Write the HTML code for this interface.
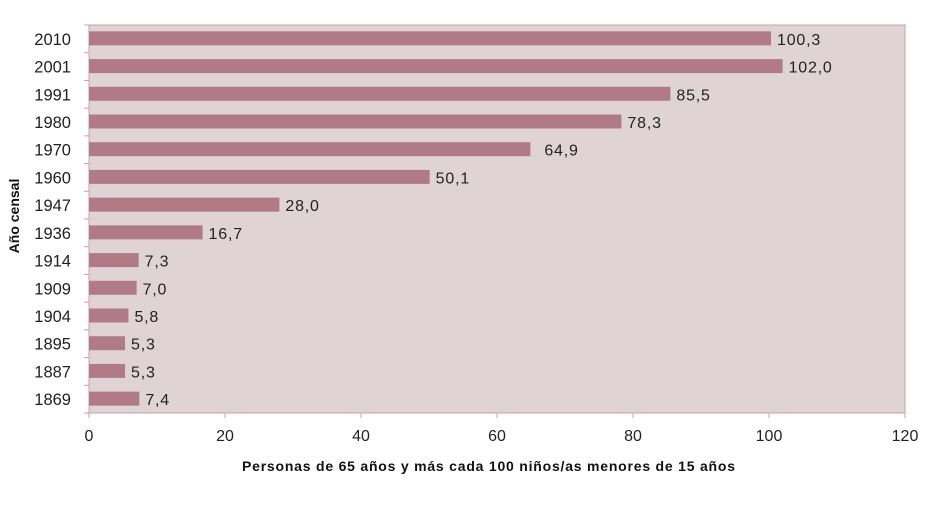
<!DOCTYPE html>
<html><head><meta charset="utf-8"><style>
body{margin:0;background:#fff;}
svg text{font-family:"Liberation Sans",sans-serif;}
</style></head><body>
<svg id="chart" width="930" height="501" xmlns="http://www.w3.org/2000/svg"></svg>
<script>
const categories=["2010","2001","1991","1980","1970","1960","1947","1936","1914","1909","1904","1895","1887","1869"];
const values=[100.3,102.0,85.5,78.3,64.9,50.1,28.0,16.7,7.3,7.0,5.8,5.3,5.3,7.4];
const labels=["100,3","102,0","85,5","78,3","64,9","50,1","28,0","16,7","7,3","7,0","5,8","5,3","5,3","7,4"];
const xTicks=[0,20,40,60,80,100,120];
const X0=89,X1=905,Y0=25,Y1=413,XMAX=120;
const NS="http://www.w3.org/2000/svg";
const svg=document.getElementById('chart');
const x=v=>X0+(X1-X0)*v/XMAX;
const band=(Y1-Y0)/categories.length;
const y=i=>Y0+band*i;
function mk(t,a,p){const e=document.createElementNS(NS,t);for(const k in a)e.setAttribute(k,a[k]);(p||svg).appendChild(e);return e;}
const bg=mk('rect',{x:X0,y:Y0,width:X1-X0,height:Y1-Y0,fill:'#dfd3d6',stroke:'#c9a0ac','stroke-width':1});


categories.forEach((c,i)=>{
  const b=mk('rect',{x:X0,y:y(i)+band/2-7.5,width:x(values[i])-X0,height:14,fill:'#b07a87'});
  
  
  const l=mk('text',{x:x(values[i])+(values[i]>60&&values[i]<70?14:6),y:y(i)+band/2+6,'font-size':16,'letter-spacing':0.8,fill:'#222'});
  l.textContent=labels[i];
  
  
  const t=mk('text',{x:71,y:y(i)+band/2+6,'font-size':16.5,'text-anchor':'end',fill:'#222'});
  t.textContent=c;
  
  
});
for(let i=0;i<=categories.length;i++){mk('line',{x1:84,x2:X0,y1:y(i),y2:y(i),stroke:'#c9a0ac'});}
xTicks.forEach(v=>{
  mk('line',{x1:x(v),x2:x(v),y1:Y1,y2:Y1+5,stroke:'#c9a0ac'});
  const t=mk('text',{x:x(v),y:441,'font-size':16,'text-anchor':'middle',fill:'#222'});
  t.textContent=v;
  
  
});
const xt=mk('text',{x:242,y:471,'font-size':14,'font-weight':'bold',textLength:493,lengthAdjust:'spacing',fill:'#111'});
xt.textContent="Personas de 65 años y más cada 100 niños/as menores de 15 años";


const yt=mk('text',{x:0,y:0,'font-size':14,'font-weight':'bold','text-anchor':'middle',fill:'#111',transform:'translate(19,216) rotate(-90)'});
yt.textContent="Año censal";


</script>
</body></html>
